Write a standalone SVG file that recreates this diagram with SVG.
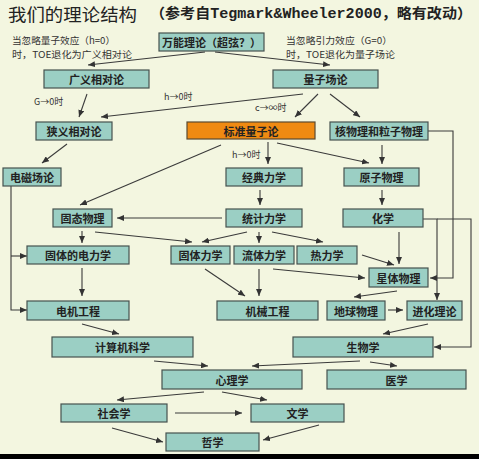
<svg xmlns="http://www.w3.org/2000/svg" width="479" height="459" viewBox="0 0 479 459">
<defs>
<marker id="ah" markerUnits="userSpaceOnUse" markerWidth="7" markerHeight="6" refX="7" refY="3" orient="auto">
<path d="M0,0 L7,3 L0,6 z" fill="#333"/>
</marker>
<style>
.bx{fill:#9bcfc4;stroke:#46524f;stroke-width:1.2}
.or{fill:#ef8a12;stroke:#5a4a30;stroke-width:1.2}
.t{font-family:"Noto Sans CJK SC","Liberation Sans",sans-serif;font-size:11px;font-weight:bold;fill:#222;text-anchor:middle;dominant-baseline:central}
.n{font-family:"Noto Sans CJK SC","Liberation Sans",sans-serif;font-size:9.5px;fill:#333}
.c line,.c path{stroke:#3a3a3a;stroke-width:1.1;fill:none;marker-end:url(#ah)}
</style>
</defs>
<rect width="479" height="459" fill="#f3f6e0"/>
<rect x="0" y="454" width="479" height="5" fill="#000"/>
<text x="8" y="20.5" textLength="129" lengthAdjust="spacingAndGlyphs" style="font-family:'Noto Sans CJK SC',sans-serif;font-size:17.5px;fill:#222">我们的理论结构</text>
<text x="150" y="18" textLength="322" lengthAdjust="spacingAndGlyphs" style="font-family:'Liberation Mono','Noto Sans CJK SC',monospace;font-size:14px;font-weight:bold;fill:#222">（参考自Tegmark&amp;Wheeler2000，略有改动）</text>
<text class="n" x="12" y="43.5" textLength="103" lengthAdjust="spacingAndGlyphs">当忽略量子效应（h=0）</text>
<text class="n" x="12" y="57.5" textLength="120" lengthAdjust="spacingAndGlyphs">时，TOE退化为广义相对论</text>
<text class="n" x="286" y="43.5" textLength="106" lengthAdjust="spacingAndGlyphs">当忽略引力效应（G=0）</text>
<text class="n" x="286" y="57.5" textLength="109" lengthAdjust="spacingAndGlyphs">时，TOE退化为量子场论</text>
<text class="n" x="34" y="105" style="font-size:9px">G→0时</text>
<text class="n" x="164" y="100" style="font-size:9px">h→0时</text>
<text class="n" x="255" y="111" style="font-size:9px">c→∞时</text>
<text class="n" x="232" y="158" style="font-size:9px">h→0时</text>
<g class="c" id="connectors">
<line x1="205" y1="52" x2="88" y2="65"/>
<line x1="215" y1="52" x2="330" y2="65"/>
<line x1="87" y1="94" x2="79" y2="117"/>
<line x1="303" y1="94" x2="101" y2="117"/>
<line x1="318" y1="94" x2="295" y2="117"/>
<line x1="330" y1="94" x2="360" y2="117"/>
<line x1="67" y1="144" x2="42" y2="163"/>
<line x1="221" y1="145" x2="80" y2="205"/>
<line x1="268" y1="142" x2="268" y2="164"/>
<line x1="277" y1="143" x2="369" y2="163"/>
<line x1="382" y1="145" x2="382" y2="164"/>
<line x1="260" y1="190" x2="260" y2="205"/>
<line x1="382" y1="190" x2="382" y2="205"/>
<line x1="222" y1="218" x2="117" y2="218"/>
<line x1="82" y1="231" x2="82" y2="243"/>
<line x1="95" y1="232" x2="192" y2="242"/>
<line x1="247" y1="232" x2="202" y2="242"/>
<line x1="259" y1="232" x2="259" y2="243"/>
<line x1="272" y1="232" x2="323" y2="242"/>
<line x1="399" y1="232" x2="399" y2="264"/>
<line x1="362" y1="255" x2="394" y2="265"/>
<line x1="273" y1="269" x2="365" y2="278"/>
<line x1="205" y1="269" x2="245" y2="296"/>
<line x1="259" y1="269" x2="259" y2="296"/>
<line x1="82" y1="268" x2="82" y2="296"/>
<line x1="397" y1="291" x2="354" y2="297"/>
<line x1="388" y1="310" x2="403" y2="310"/>
<line x1="82" y1="324" x2="119" y2="334"/>
<line x1="428" y1="324" x2="383" y2="334"/>
<line x1="154" y1="361" x2="208" y2="366"/>
<line x1="360" y1="361" x2="252" y2="366"/>
<line x1="370" y1="362" x2="397" y2="366"/>
<line x1="204" y1="392" x2="117" y2="400"/>
<line x1="222" y1="392" x2="267" y2="400"/>
<line x1="175" y1="413" x2="242" y2="413"/>
<line x1="112" y1="428" x2="163" y2="442"/>
<line x1="319" y1="425" x2="263" y2="440"/>
<path d="M11,186 L11,310 L27,310"/>
<path d="M11,256 L27,256"/>
<path d="M428,131 L453,131 L453,278 L430,278"/>
<path d="M423,219 L437,219 L437,300"/>
<path d="M437,219 L471,219 L471,347 L434,347"/>
</g>
<g id="toe"><rect class="bx" x="159" y="33" width="105" height="18"/><text class="t" x="211.5" y="42">万能理论（超弦？）</text></g>
<g id="gr"><rect class="bx" x="44" y="70" width="105" height="18"/><text class="t" x="96.5" y="79">广义相对论</text></g>
<g id="qft"><rect class="bx" x="273" y="70" width="105" height="18"/><text class="t" x="325.5" y="79">量子场论</text></g>
<g id="sr"><rect class="bx" x="36" y="122" width="76" height="18"/><text class="t" x="74" y="131">狭义相对论</text></g>
<g id="sqm"><rect class="or" x="187" y="122" width="128" height="17"/><text class="t" x="251" y="130.5">标准量子论</text></g>
<g id="np"><rect class="bx" x="330" y="122" width="98" height="18"/><text class="t" x="379" y="131">核物理和粒子物理</text></g>
<g id="em"><rect class="bx" x="3" y="168" width="58" height="18"/><text class="t" x="32" y="177">电磁场论</text></g>
<g id="cm"><rect class="bx" x="226" y="168" width="76" height="18"/><text class="t" x="264" y="177">经典力学</text></g>
<g id="ap"><rect class="bx" x="344" y="168" width="75" height="18"/><text class="t" x="381.5" y="177">原子物理</text></g>
<g id="ss"><rect class="bx" x="53" y="209" width="59" height="18"/><text class="t" x="82.5" y="218">固态物理</text></g>
<g id="sm"><rect class="bx" x="226" y="209" width="76" height="18"/><text class="t" x="264" y="218">统计力学</text></g>
<g id="ch"><rect class="bx" x="343" y="209" width="80" height="18"/><text class="t" x="383" y="218">化学</text></g>
<g id="sed"><rect class="bx" x="27" y="246" width="102" height="18"/><text class="t" x="78" y="255">固体的电力学</text></g>
<g id="sdm"><rect class="bx" x="171" y="246" width="59" height="18"/><text class="t" x="200.5" y="255">固体力学</text></g>
<g id="fm"><rect class="bx" x="234" y="246" width="60" height="18"/><text class="t" x="264" y="255">流体力学</text></g>
<g id="td"><rect class="bx" x="297" y="246" width="60" height="18"/><text class="t" x="327" y="255">热力学</text></g>
<g id="astro"><rect class="bx" x="369" y="268" width="59" height="19"/><text class="t" x="398.5" y="277.5">星体物理</text></g>
<g id="ee"><rect class="bx" x="27" y="301" width="102" height="19"/><text class="t" x="78" y="310.5">电机工程</text></g>
<g id="me"><rect class="bx" x="217" y="301" width="101" height="19"/><text class="t" x="267.5" y="310.5">机械工程</text></g>
<g id="geo"><rect class="bx" x="327" y="301" width="58" height="19"/><text class="t" x="356" y="310.5">地球物理</text></g>
<g id="evo"><rect class="bx" x="407" y="301" width="55" height="19"/><text class="t" x="434.5" y="310.5">进化理论</text></g>
<g id="cs"><rect class="bx" x="52" y="337" width="141" height="20"/><text class="t" x="122.5" y="347">计算机科学</text></g>
<g id="bio"><rect class="bx" x="293" y="337" width="140" height="20"/><text class="t" x="363" y="347">生物学</text></g>
<g id="psy"><rect class="bx" x="162" y="370" width="140" height="19"/><text class="t" x="232" y="379.5">心理学</text></g>
<g id="med"><rect class="bx" x="327" y="370" width="139" height="19"/><text class="t" x="396.5" y="379.5">医学</text></g>
<g id="soc"><rect class="bx" x="61" y="404" width="106" height="18"/><text class="t" x="114" y="413">社会学</text></g>
<g id="lit"><rect class="bx" x="251" y="404" width="93" height="18"/><text class="t" x="297.5" y="413">文学</text></g>
<g id="phil"><rect class="bx" x="166" y="433" width="93" height="18"/><text class="t" x="212.5" y="442">哲学</text></g>
</svg>
